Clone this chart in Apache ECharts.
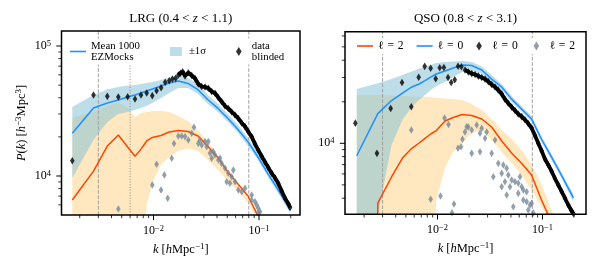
<!DOCTYPE html>
<html><head><meta charset="utf-8">
<script src="https://cdn.jsdelivr.net/npm/echarts@6/dist/echarts.min.js"></script>
<style>html,body{margin:0;padding:0;background:#fff}#c{width:600px;height:270px}</style>
</head><body><div id="c"></div>
<script>
const FONT = "'Liberation Serif','DejaVu Serif',serif";

// ---------------- LRG panel (left) ----------------
const lrgKData = [0.0017,0.0027,0.00365,0.00464,0.00569,0.00668,0.00761,0.00862,0.00974,0.0107,0.0118,0.0129,0.0141,0.0151,0.0162,0.0172,
  0.0180,0.0189,0.0199,0.0214,0.0230,0.0247,0.0266,0.0286,0.0308,0.0331,0.0356,0.0383,0.0411,0.0443,0.0476,0.0512,0.0551,0.0592,0.0637,0.0686,0.0737,0.0792,0.0853,0.0917,0.0985,0.106,0.114,0.1225,0.132,0.142,0.152,0.164,0.176,0.190,0.197];
const lrgPData = [13100,42000,41000,40500,40700,39100,42000,43500,41500,45300,47800,52600,54100,55700,56400,59800,
  61700,63400,58800,62300,59300,56400,51000,48800,48400,47300,44700,43300,40200,37300,34600,33100,31100,29500,27700,25600,24000,21900,20000,17600,15800,14200,12800,11600,10500,9650,8790,7670,6770,6090,5720];
const lrgKQuad = [0.00464,0.00974,0.0107,0.0118,0.01266,0.01363,0.01488,0.01564,0.01718,0.0185,0.01989,0.02137,0.02302,0.0242,0.02658,0.02759,0.02863,0.03077,0.03193,0.03306,0.03432,0.03562,0.03688,0.03827,0.04114,0.04269,0.0443,0.04761,0.04941,0.05117,0.05309,0.05511,0.05706,0.05922,0.06365,0.06855,0.07367,0.08527,0.08527,0.09165,0.09511,0.0985,0.1022,0.0985];
const lrgPQuad = [5570,8530,12300,7800,10200,6740,13700,17800,20300,20300,20100,18900,21300,23700,17800,18900,17300,18400,16800,18400,15000,13700,15400,14500,13300,13700,12500,11500,9040,10500,8790,9880,11100,9040,7800,7570,8040,7150,6540,6340,5980,5640,5310,5190];

// k grid of the mock means / bands (both panels)
const kMock = [0.0017,0.0027,0.00365,0.00464,0.00569,0.00668,0.00761,0.00862,0.00974,0.0118,0.0141,0.0172,0.0212,0.0264,0.0328,0.0409,0.0508,0.0632,0.0787,0.0978,0.1217,0.1514,0.197];
const lrgMean0 = [21300,33400,36400,38400,40500,42000,43500,45100,46700,49200,51900,53800,51500,46100,38600,33100,27700,22800,18300,14000,10400,7870,5480];
const lrgUp0   = [34000,42000,46300,48400,49700,50100,51000,51900,52900,54800,57200,59800,56700,51000,42000,35800,30000,24700,19600,15000,11100,8380,5770];
const lrgLo0   = [9650,18900,26000,30000,31100,32200,33400,34600,36400,39800,43500,47500,47500,42700,35800,31100,26000,21400,17000,13300,9820,7400,5190];
const lrgMean2 = [6530,10900,17000,20700,16700,14200,16100,18600,19800,20500,21800,22400,22000,20300,16900,13800,10700,8680,7020,4920,3300,2200,1400];
const lrgUp2   = [27900,31100,34600,37100,33400,28400,30500,31100,31600,31600,31100,28900,26500,22600,18300,14200,10900,8530,6770,5290,3600,2500,1600];
const lrgLo2   = [1000,1000,1000,1000,1000,1000,1000,5980,8840,12200,14000,15600,16300,15600,13300,11100,9150,7670,6200,4590,3000,2000,1300];

// ---------------- QSO panel (right) ----------------
const qsoKData = [0.00165,0.00265,0.00358,0.00459,0.00563,0.00662,0.00755,0.00861,0.00961,0.0105,0.0115,0.0126,0.0135,0.0146,0.0157,0.0169,
  0.0183,0.0197,0.0212,0.0228,0.0245,0.0264,0.0284,0.0305,0.0328,0.0353,0.0379,0.0409,0.0439,0.0472,0.0509,0.0547,0.0588,0.0634,0.0681,0.0732,0.0789,0.0848,0.0912,0.0983,0.1056,0.1136,0.1224,0.1315,0.1414,0.1524,0.1638,0.1761,0.1897,0.1966];
const qsoPData = [14000,8460,17900,27600,18400,30100,36100,35000,29400,35300,35400,30000,27600,28900,36200,35900,
  34000,32900,32000,31500,30700,30000,29200,28000,26700,25600,24300,22800,20900,19500,18300,17300,16300,15600,14800,13900,12900,11400,10000,8790,7690,6970,6250,5560,4990,4460,4000,3570,3230,3100];
const qsoKQuad = [0.00563,0.00861,0.01068,0.01166,0.01273,0.01374,0.01436,0.01567,0.01674,0.0173,0.01827,0.01897,0.01965,0.02117,0.02117,0.02362,0.0254,0.0254,0.02636,0.02835,0.02942,0.03282,0.03399,0.03529,0.03793,0.04087,0.04087,0.04234,0.04394,0.0456,0.0456,0.04724,0.04903,0.05089,0.05271,0.05472,0.05882,0.05882,0.06105,0.06338,0.06564,0.06564,0.07071,0.07071,0.07324,0.07603,0.0789,0.08175];
const qsoPQuad = [12490,3930,4150,15250,13680,3140,3630,9200,9450,10690,12070,13190,13130,12490,8460,13570,11820,8690,12840,10870,12070,8460,5730,10560,7160,6060,4850,6970,5270,6590,4220,5890,4850,5420,3470,5270,5130,4340,5730,4850,4590,3880,4460,3770,3290,3570,3670,3130];
const qsoMean0 = [8130,16400,20400,23100,25600,26900,28500,30200,31800,33400,35100,36900,36600,34000,29200,25600,20900,17700,15000,10700,7960,5890,4020];
const qsoUp0   = [24700,27200,29200,31300,33100,34800,36000,36900,38200,38800,39100,39500,38800,36000,31300,26900,22000,18600,15800,11300,8370,6190,4290];
const qsoLo0   = [1000,3020,9720,14800,18300,20600,22400,24300,26000,27800,30200,32900,33400,31800,27800,24300,19900,16900,14300,10200,7570,5600,3760];
const qsoMean2 = [1e-20,3690,5700,7820,9200,10050,10870,11680,12380,14510,15380,16170,15900,15000,13130,10390,8510,7160,5890,3880,2690,1800,1100];
const qsoUp2   = [22400,22400,22200,22000,21800,21760,21760,21650,21290,21110,20940,20590,19270,17430,15000,12490,10740,8940,6970,5070,3290,2560,1700];
const qsoLo2   = [500,500,500,500,500,500,500,500,3880,6620,8650,10050,11870,12490,10560,8650,7200,5890,4590,3460,2690,2170,1500];

// reference scales (vertical lines)
const lrgVLines = [0.003, 0.006, 0.08];
const lrgVKinds = [0, 1, 0];   // 0 dashed, 1 dotted
const qsoVLines = [0.003, 0.08];
const qsoVKinds = [0, 0];

// axis ticks
const xMajor = [0.01, 0.1];
const xMinor = [0.002,0.003,0.004,0.005,0.006,0.007,0.008,0.009,0.02,0.03,0.04,0.05,0.06,0.07,0.08,0.09,0.2];
const lrgYMajor = [1e4, 1e5];
const lrgYMinor = [6000,7000,8000,9000,20000,30000,40000,50000,60000,70000,80000,90000];
const qsoYMajor = [1e4];
const qsoYMinor = [4000,5000,6000,7000,8000,9000,20000,30000,40000,50000,60000];

const lrgX = [0.001343, 0.2446], lrgY = [5012, 130450];
const qsoX = [0.001315, 0.2597], qsoY = [3059, 64380];
const G0 = {left: 61.5, top: 31, width: 238.5, height: 184};
const G1 = {left: 345, top: 31.7, width: 241, height: 182.6};

const C_BLUE = '#1E90FF', C_ORANGE = '#FF4500', C_GRAY = '#778899';
const C_BBAND = 'rgba(135,195,215,0.55)', C_OBAND = 'rgba(255,165,0,0.25)';
const DIAMOND = 'path://M2.5 0L5 4L2.5 8L0 4Z';
const LINEICON = 'path://M0 0H16V1.6H0Z';
const NDENSE = 16; // first points are isolated, the rest form the dense band

const zip = (a, b) => a.map((v, i) => [v, b[i]]);

function bandSeries(name, p, k, up, lo, color) {
  return {
    type: 'custom', name, xAxisIndex: p, yAxisIndex: p, clip: true, silent: true,
    itemStyle: {color}, data: [[k[0], up[0]]],
    renderItem: function (params, api) {
      const pts = [];
      for (let i = 0; i < k.length; i++) pts.push(api.coord([k[i], up[i]]));
      for (let i = k.length - 1; i >= 0; i--) pts.push(api.coord([k[i], lo[i]]));
      return {type: 'polygon', shape: {points: pts}, style: {fill: color}};
    }
  };
}
function vlineSeries(p, xs, kinds, yr) {
  return {
    type: 'custom', xAxisIndex: p, yAxisIndex: p, clip: true, silent: true,
    data: xs.map((x, i) => [x, yr[0], kinds[i]]),
    renderItem: function (params, api) {
      const x = api.value(0);
      const a = api.coord([x, yr[0]]), b = api.coord([x, yr[1]]);
      const dotted = api.value(2) === 1;
      return {type: 'line', shape: {x1: a[0], y1: a[1], x2: b[0], y2: b[1]},
        style: {stroke: dotted ? '#8c8c8c' : '#a0a0a0', lineWidth: 1, lineDash: dotted ? [1, 1.7] : [3.7, 1.6]}};
    }
  };
}
function lineSeries(name, p, k, v, color, width, z) {
  return {
    type: 'line', name, xAxisIndex: p, yAxisIndex: p, data: zip(k, v), symbol: 'none', showSymbol: false,
    lineStyle: {color, width: width || 1.5}, itemStyle: {color}, clip: true, silent: true, z: z || 2
  };
}
function scatterSeries(name, p, k, v, color) {
  return {type: 'scatter', name, xAxisIndex: p, yAxisIndex: p, data: zip(k, v), symbol: DIAMOND,
    symbolSize: [4.6, 7.6], itemStyle: {color}, clip: true, silent: true, z: 3};
}
function tickSeries(p, xr, yr, yMaj, yMin) {
  const data = [];
  xMajor.concat(xMinor).forEach((v, i) => { if (v > xr[0] && v < xr[1]) data.push([v, yr[0], i < xMajor.length ? 4.5 : 2.5, 0]); });
  yMaj.concat(yMin).forEach((v, i) => { if (v > yr[0] && v < yr[1]) data.push([xr[0], v, i < yMaj.length ? 4.5 : 2.5, 1]); });
  return {
    type: 'custom', xAxisIndex: p, yAxisIndex: p, silent: true, clip: false, z: 10, data,
    renderItem: function (params, api) {
      const a = api.coord([api.value(0), api.value(1)]);
      const len = api.value(2), isY = api.value(3) === 1;
      const shape = isY ? {x1: a[0] - len - 0.7, y1: a[1], x2: a[0], y2: a[1]} : {x1: a[0], y1: a[1], x2: a[0], y2: a[1] + len + 0.7};
      return {type: 'line', shape, style: {stroke: '#000', lineWidth: len > 3 ? 1 : 0.8}};
    }
  };
}
function powLabel(v) {
  const l = Math.log10(v), e = Math.round(l);
  if (Math.abs(l - e) > 1e-6) return '';
  return '{b|10}{s|' + (e < 0 ? '\u2212' : '') + Math.abs(e) + '}';
}
const tickRich = {
  b: {fontFamily: FONT, fontSize: 12, lineHeight: 14, color: '#000'},
  s: {fontFamily: FONT, fontSize: 8.5, lineHeight: 8, verticalAlign: 'top', color: '#000'}
};
const nameRich = {
  i: {fontFamily: FONT, fontStyle: 'italic', fontSize: 12.5, lineHeight: 15, color: '#000'},
  n: {fontFamily: FONT, fontSize: 12.5, lineHeight: 15, color: '#000'},
  s: {fontFamily: FONT, fontSize: 9, lineHeight: 9, verticalAlign: 'top', color: '#000'}
};
const titleRich = {
  i: {fontFamily: FONT, fontStyle: 'italic', fontWeight: 'normal', fontSize: 13, lineHeight: 16, color: '#000'},
  n: {fontFamily: FONT, fontWeight: 'normal', fontSize: 13, lineHeight: 16, color: '#000'}
};
const xName = '{i|k}{n| [}{i|h}{n|Mpc}{s|\u22121}{n|]}';
const yName = '{i|P}{n|(}{i|k}{n|) [}{i|h}{s|\u22123}{n|Mpc}{s|3}{n|]}';

function xAxisCfg(p, r) {
  return {type: 'log', gridIndex: p, min: r[0], max: r[1], axisLine: {show: false}, axisTick: {show: false},
    splitLine: {show: false}, minorTick: {show: false},
    axisLabel: {formatter: powLabel, margin: 9, rich: tickRich, showMinLabel: false, showMaxLabel: false},
    name: xName, nameLocation: 'middle', nameGap: 26, nameTextStyle: {rich: nameRich}};
}
function yAxisCfg(p, r, withName) {
  const a = {type: 'log', gridIndex: p, min: r[0], max: r[1], axisLine: {show: false}, axisTick: {show: false},
    splitLine: {show: false}, minorTick: {show: false},
    axisLabel: {formatter: powLabel, margin: 10.5, rich: tickRich, showMinLabel: false, showMaxLabel: false}};
  if (withName) Object.assign(a, {name: yName, nameLocation: 'middle', nameGap: 32, nameRotate: 90, nameTextStyle: {rich: nameRich}});
  return a;
}
function frame(g) {
  return {type: 'rect', z: 100, silent: true, shape: {x: g.left, y: g.top, width: g.width, height: g.height},
    style: {fill: 'none', stroke: '#000', lineWidth: 1.5}};
}

const legendText = {fontFamily: FONT, fontSize: 10.8, lineHeight: 11, color: '#000'};
const legendText2 = {fontFamily: FONT, fontSize: 11.6, lineHeight: 12, color: '#000'};
const ELL = '\u2113\u2004=\u2004';

const option = {
  animation: false,
  backgroundColor: '#fff',
  title: [
    {text: '{n|LRG (0.4 < }{i|z}{n| < 1.1)}', left: 180.75, top: 11, textAlign: 'center', padding: 0, textStyle: {fontWeight: 'normal', rich: titleRich}},
    {text: '{n|QSO (0.8 < }{i|z}{n| < 3.1)}', left: 465.5, top: 11, textAlign: 'center', padding: 0, textStyle: {fontWeight: 'normal', rich: titleRich}}
  ],
  grid: [Object.assign({show: false}, G0), Object.assign({show: false}, G1)],
  graphic: [frame(G0), frame(G1)],
  legend: [
    {left: 66, top: 38.5, orient: 'horizontal', itemWidth: 16, itemHeight: 9, itemGap: 30, padding: [2, 4, 2, 4],
      backgroundColor: '#fff', selectedMode: false, textStyle: legendText,
      data: [{name: 'Mean 1000\nEZMocks', icon: LINEICON}, {name: '\u00b11\u03c3', icon: 'path://M0 0H12V9H0Z'}, {name: 'data\nblinded', icon: DIAMOND}]},
    {left: 353, top: 38, orient: 'horizontal', itemWidth: 16, itemHeight: 9, itemGap: 13, padding: [2, 4, 2, 4],
      backgroundColor: '#fff', selectedMode: false, textStyle: legendText2,
      data: [{name: ELL + '2', icon: LINEICON}, {name: ELL + '0', icon: LINEICON}, {name: ELL + '0 ', icon: DIAMOND}, {name: ELL + '2 ', icon: DIAMOND}]}
  ],
  xAxis: [xAxisCfg(0, lrgX), xAxisCfg(1, qsoX)],
  yAxis: [yAxisCfg(0, lrgY, true), yAxisCfg(1, qsoY, false)],
  series: [
    bandSeries('lrg quad band', 0, kMock, lrgUp2, lrgLo2, C_OBAND),
    bandSeries('\u00b11\u03c3', 0, kMock, lrgUp0, lrgLo0, C_BBAND),
    vlineSeries(0, lrgVLines, lrgVKinds, lrgY),
    lineSeries('lrg quad mean', 0, kMock, lrgMean2, C_ORANGE),
    lineSeries('Mean 1000\nEZMocks', 0, kMock, lrgMean0, C_BLUE),
    scatterSeries('lrg quad data', 0, lrgKQuad, lrgPQuad, C_GRAY),
    lineSeries('lrg data dense', 0, lrgKData.slice(NDENSE - 1), lrgPData.slice(NDENSE - 1), '#000', 3.8, 3),
    scatterSeries('data\nblinded', 0, lrgKData, lrgPData, '#000'),
    tickSeries(0, lrgX, lrgY, lrgYMajor, lrgYMinor),

    bandSeries('qso quad band', 1, kMock, qsoUp2, qsoLo2, C_OBAND),
    bandSeries('qso mono band', 1, kMock, qsoUp0, qsoLo0, C_BBAND),
    vlineSeries(1, qsoVLines, qsoVKinds, qsoY),
    lineSeries(ELL + '2', 1, kMock, qsoMean2, C_ORANGE),
    lineSeries(ELL + '0', 1, kMock, qsoMean0, C_BLUE),
    scatterSeries(ELL + '2 ', 1, qsoKQuad, qsoPQuad, C_GRAY),
    lineSeries('qso data dense', 1, qsoKData.slice(NDENSE), qsoPData.slice(NDENSE), '#000', 3.8, 3),
    scatterSeries(ELL + '0 ', 1, qsoKData, qsoPData, '#000'),
    tickSeries(1, qsoX, qsoY, qsoYMajor, qsoYMinor)
  ]
};
const chart = echarts.init(document.getElementById('c'), null, {renderer: 'canvas'});
chart.setOption(option);
</script>
</body></html>
